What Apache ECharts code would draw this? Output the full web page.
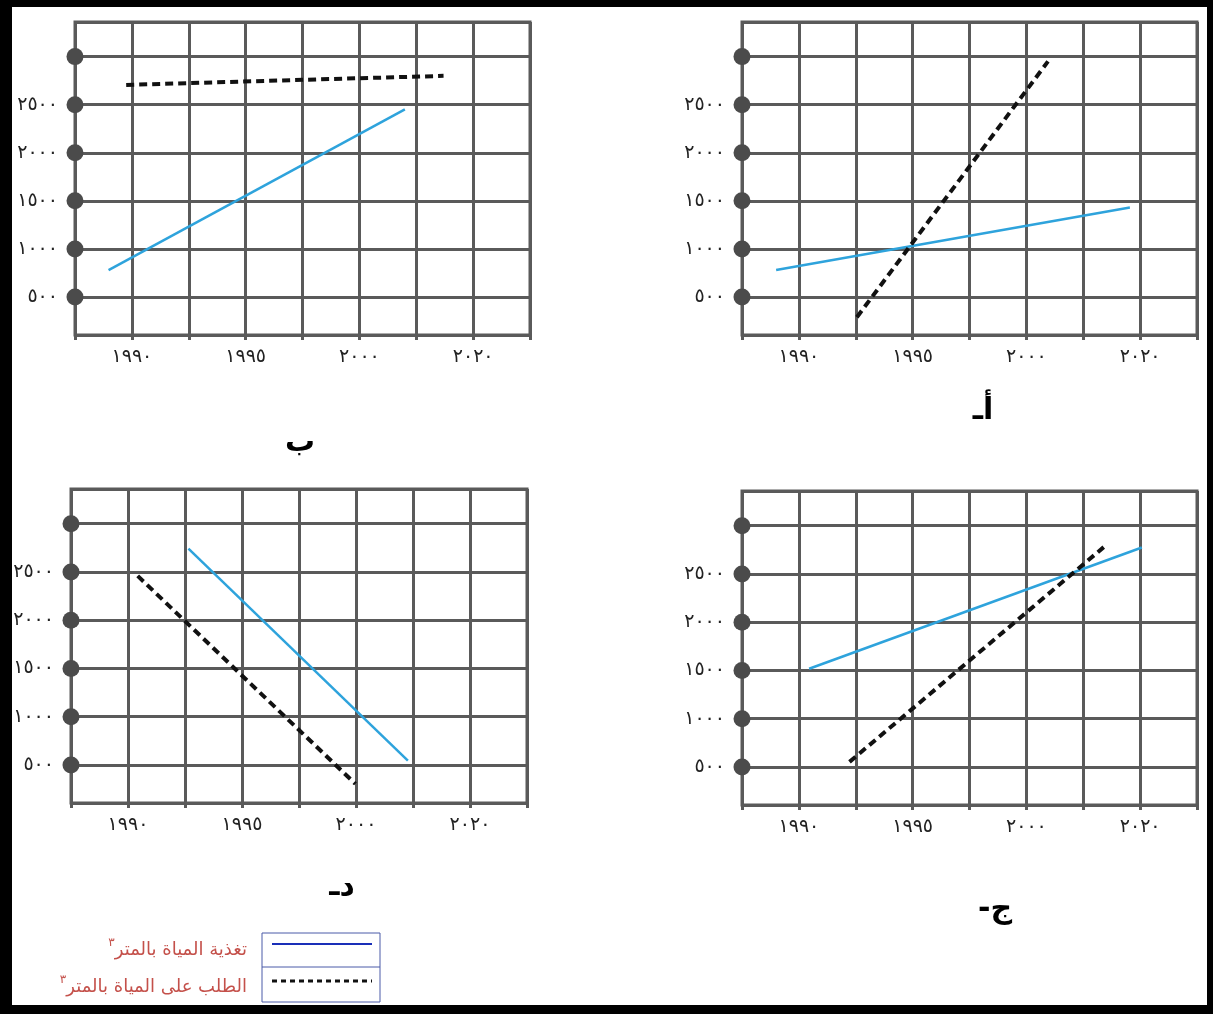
<!DOCTYPE html>
<html>
<head>
<meta charset="utf-8">
<script src="https://cdn.jsdelivr.net/npm/echarts@6/dist/echarts.min.js"></script>
<style>
html,body{margin:0;padding:0;background:#fff;}
#c{width:1213px;height:1014px;}
</style>
</head>
<body>
<div id="c"></div>
<script>
// ---- data (x in grid-column units: 0 = left edge, 8 = right edge) ----
const panelNames = ['ب', 'أـ', 'دـ', '-ج'];
const supplyB = [[0.59, 780], [5.80, 2452]];
const demandB = [[0.90, 2706], [6.48, 2800]];
const supplyA = [[0.60, 782], [6.82, 1431]];
const demandA = [[2.02, 290], [5.38, 2950]];
const supplyD = [[2.06, 2741], [5.91, 545]];
const demandD = [[1.17, 2459], [4.99, 303]];
const supplyJ = [[1.18, 1517], [7.03, 2774]];
const demandJ = [[1.89, 552], [6.36, 2778]];

const yTickValues = [500, 1000, 1500, 2000, 2500, 3000];
const yTickLabels = ['٥٠٠', '١٠٠٠', '١٥٠٠', '٢٠٠٠', '٢٥٠٠', ''];
const xTickPositions = [1, 3, 5, 7];
const xTickLabels = ['١٩٩٠', '١٩٩٥', '٢٠٠٠', '٢٠٢٠'];

const legendSupply = 'تغذية المياة بالمتر';
const legendDemand = 'الطلب على المياة بالمتر';
const supUnit = '٣';

// ---- layout / style ----
const yMin = 105, yMax = 3360;
const gridColor = '#5a5a5a';
const blue = '#2ea3dc';
const font = 'DejaVu Sans';

const panels = [
  {grid: {left: 75, top: 22, width: 455, height: 313}, supply: supplyB, demand: demandB, label: [300, 443]},
  {grid: {left: 742, top: 22, width: 455, height: 313}, supply: supplyA, demand: demandA, label: [983, 411]},
  {grid: {left: 71, top: 489, width: 456, height: 314}, supply: supplyD, demand: demandD, label: [342, 887]},
  {grid: {left: 742, top: 491, width: 455, height: 314}, supply: supplyJ, demand: demandJ, label: [995, 910]}
];

const grids = [], xAxes = [], yAxes = [], series = [], graphics = [];

panels.forEach((p, i) => {
  grids.push(Object.assign({show: true, borderColor: gridColor, borderWidth: 3, backgroundColor: 'transparent'}, p.grid));
  xAxes.push({
    type: 'value', gridIndex: i, min: 0, max: 8, interval: 1,
    axisLine: {show: false},
    axisTick: {show: true, length: 5, lineStyle: {color: gridColor, width: 3}},
    splitLine: {show: true, lineStyle: {color: gridColor, width: 3}},
    axisLabel: {
      margin: 13, fontSize: 19, color: '#222', fontFamily: font,
      formatter: v => { const k = xTickPositions.indexOf(Math.round(v * 1000) / 1000); return k >= 0 ? xTickLabels[k] : ''; }
    }
  });
  yAxes.push({
    type: 'value', gridIndex: i, min: yMin, max: yMax, minInterval: 500, maxInterval: 500,
    axisLine: {show: false}, axisTick: {show: false},
    splitLine: {show: true, lineStyle: {color: gridColor, width: 3}},
    axisLabel: {
      margin: 17, fontSize: 19, color: '#222', fontFamily: font,
      formatter: v => { const k = yTickValues.indexOf(Math.round(v)); return k >= 0 ? yTickLabels[k] : ''; }
    }
  });
  series.push({
    type: 'line', xAxisIndex: i, yAxisIndex: i, data: p.supply, symbol: 'none',
    lineStyle: {color: blue, width: 2.5}, z: 3, silent: true
  });
  series.push({
    type: 'line', xAxisIndex: i, yAxisIndex: i, data: p.demand, symbol: 'none',
    lineStyle: {color: '#111', width: 4, type: [8, 5]}, z: 3, silent: true
  });
  series.push({
    type: 'scatter', xAxisIndex: i, yAxisIndex: i, data: yTickValues.map(v => [0, v]),
    symbolSize: 17, itemStyle: {color: '#4b4b4b', opacity: 1}, clip: false, z: 4, silent: true
  });
  graphics.push({
    type: 'text', x: p.label[0], y: p.label[1], z: 10,
    style: {text: panelNames[i], font: 'bold 30px "DejaVu Sans"', fill: '#000', align: 'center', verticalAlign: 'middle'}
  });
});

// frame
graphics.push({type: 'rect', shape: {x: 0, y: 0, width: 1213, height: 7}, style: {fill: '#000'}, z: 20});
graphics.push({type: 'rect', shape: {x: 0, y: 0, width: 12, height: 1014}, style: {fill: '#000'}, z: 20});
graphics.push({type: 'rect', shape: {x: 1207, y: 0, width: 6, height: 1014}, style: {fill: '#000'}, z: 20});
graphics.push({type: 'rect', shape: {x: 0, y: 1005, width: 1213, height: 9}, style: {fill: '#000'}, z: 20});

// legend box
graphics.push({type: 'rect', shape: {x: 262, y: 933, width: 118, height: 69}, style: {fill: '#fff', stroke: '#4a5aa8', lineWidth: 1}, z: 10});
graphics.push({type: 'line', shape: {x1: 262, y1: 967, x2: 380, y2: 967}, style: {stroke: '#4a5aa8', lineWidth: 1}, z: 11});
graphics.push({type: 'line', shape: {x1: 272, y1: 944, x2: 372, y2: 944}, style: {stroke: '#1a2fb8', lineWidth: 2}, z: 11});
graphics.push({type: 'line', shape: {x1: 272, y1: 981, x2: 372, y2: 981}, style: {stroke: '#111', lineWidth: 3, lineDash: [5, 4]}, z: 11});

const legRich = {
  sup: {fontSize: 12, fontFamily: font, fill: '#c4504a', verticalAlign: 'top', lineHeight: 27},
  t: {fontSize: 18, fontFamily: font, fill: '#c4504a', lineHeight: 27}
};
graphics.push({
  type: 'text', x: 247, y: 950, z: 11,
  style: {text: '{sup|' + supUnit + '}{t|' + legendSupply + '}', rich: legRich, align: 'right', verticalAlign: 'middle'}
});
graphics.push({
  type: 'text', x: 247, y: 987, z: 11,
  style: {text: '{sup|' + supUnit + '}{t|' + legendDemand + '}', rich: legRich, align: 'right', verticalAlign: 'middle'}
});

const chart = echarts.init(document.getElementById('c'), null, {renderer: 'canvas'});
chart.setOption({
  animation: false,
  backgroundColor: '#fff',
  grid: grids,
  xAxis: xAxes,
  yAxis: yAxes,
  series: series,
  graphic: graphics
});
</script>
</body>
</html>
